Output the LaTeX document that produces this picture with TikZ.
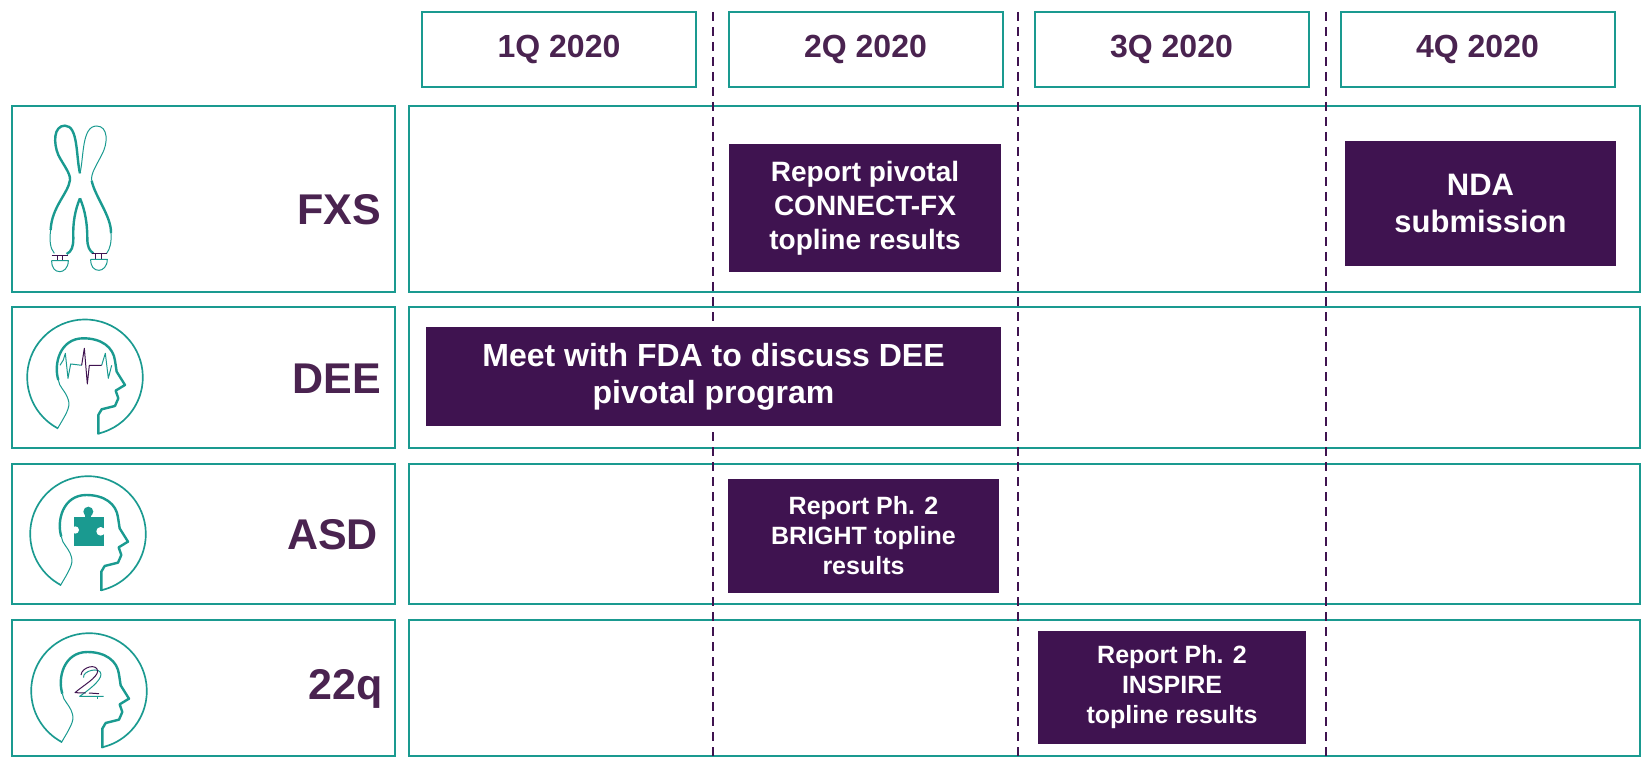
\documentclass[tikz,border=0pt]{standalone}
\usepackage{fontspec}
\setmainfont{Liberation Sans}
\definecolor{tealc}{HTML}{1A9A90}
\definecolor{plum}{HTML}{3F1350}
\definecolor{plumtxt}{HTML}{4A2350}
\tikzset{
	hdrbox/.style = {draw = tealc, line width = 2pt, minimum width = 274pt, minimum height = 75pt, inner sep = 0pt, text = plumtxt, font = \fontsize{32}{36}\selectfont\bfseries},
	rowbox/.style = {draw = tealc, line width = 2.6pt, inner sep = 0pt},
	rowname/.style = {anchor = east, inner sep = 0pt, text = plumtxt, font = \fontsize{43}{48}\selectfont\bfseries},
	evbox/.style = {fill = plum, inner sep = 0pt, text = white, align = center},
	quarter/.style = {draw = plum, line width = 2pt, dash pattern = on 9pt off 6pt},
	thick line/.style = {draw = tealc, line width = 2.4pt, line join = round},
	thin line/.style = {draw = tealc, line width = 1pt, line join = round},
	fine line/.style = {draw = plum, line width = 1pt, line join = round}
}
% ring and profile of a head, centred on the ring
\newcommand{\headoutline}{
	\fill[tealc] (118:176) arc[start angle = 118, end angle = 437, radius = 176] -- (77:171) arc[start angle = 437, end angle = 118, radius = 171] -- cycle;
	\draw[thin line] (-83,155) .. controls (-60,115) and (-42,90) .. (-50,68) .. controls (-58,40) and (-78,30) .. (-80,8);
	\draw[thick line] (-80,8) .. controls (-95,-40) and (-75,-117) .. (-5,-117) .. controls (50,-117) and (85,-90) .. (90,-50) -- (95,-17) -- (120,23) -- (92,40) -- (100,63) -- (90,86) -- (50,96) -- (40,113) -- (40,171);
}
\begin{document}
\begin{tikzpicture}[x = 1pt, y = -1pt]
	\useasboundingbox (0,0) rectangle (1651,767);
	
	\node[hdrbox] (Q1) at (559,49.5) {1Q 2020};
	\node[hdrbox] (Q2) at (865.5,49.5) {2Q 2020};
	\node[hdrbox] (Q3) at (1171.5,49.5) {3Q 2020};
	\node[hdrbox] (Q4) at (1477.5,49.5) {4Q 2020};
	
	\node[rowbox, minimum width = 383pt, minimum height = 186pt] (LFXS) at (203.5,199) {};
	\node[rowbox, minimum width = 383pt, minimum height = 141pt] (LDEE) at (203.5,377.5) {};
	\node[rowbox, minimum width = 383pt, minimum height = 140pt] (LASD) at (203.5,534) {};
	\node[rowbox, minimum width = 383pt, minimum height = 136pt] (LQ) at (203.5,688) {};
	\node[rowbox, minimum width = 1231pt, minimum height = 186pt] (RFXS) at (1024.5,199) {};
	\node[rowbox, minimum width = 1231pt, minimum height = 141pt] (RDEE) at (1024.5,377.5) {};
	\node[rowbox, minimum width = 1231pt, minimum height = 140pt] (RASD) at (1024.5,534) {};
	\node[rowbox, minimum width = 1231pt, minimum height = 136pt] (RQ) at (1024.5,688) {};
	
	\node[rowname] (NFXS) at (381,210) {FXS};
	\node[rowname] (NDEE) at (381,379) {DEE};
	\node[rowname] (NASD) at (378,535) {ASD};
	\node[rowname] (NQ) at (383,689) {22q};
	
	\coordinate (T1) at (713,12);
	\coordinate (T2) at (1018,12);
	\coordinate (T3) at (1326,12);
	\coordinate (B1) at (713,760);
	\coordinate (B2) at (1018,760);
	\coordinate (B3) at (1326,760);
	\draw[quarter] (T1) -- (B1) (T2) -- (B2) (T3) -- (B3);
	
	\node[evbox, minimum width = 272pt, minimum height = 128pt, font = \fontsize{28}{34}\selectfont\bfseries] (EFXS) at (865,208) {Report pivotal\\CONNECT-FX\\topline results};
	\node[evbox, minimum width = 271pt, minimum height = 125pt, font = \fontsize{31}{37}\selectfont\bfseries] (ENDA) at (1480.5,203.5) {NDA\\submission};
	\node[evbox, minimum width = 575pt, minimum height = 99pt, font = \fontsize{32}{37}\selectfont\bfseries] (EDEE) at (713.5,376.5) {Meet with FDA to discuss DEE\\pivotal program};
	\node[evbox, minimum width = 271pt, minimum height = 114pt, font = \fontsize{25}{30}\selectfont\bfseries] (EASD) at (863.5,536) {Report Ph. 2\\BRIGHT topline\\results};
	\node[evbox, minimum width = 268pt, minimum height = 113pt, font = \fontsize{25}{30}\selectfont\bfseries] (EQ) at (1172,687.5) {Report Ph. 2\\INSPIRE\\topline results};
	
	% chromosome
	\begin{scope}[shift = {(0,90)}, scale = 0.3333]
		\draw[thick line] (240,250) .. controls (228,200) and (235,107) .. (195,107) .. controls (160,107) and (160,160) .. (175,195) .. controls (190,225) and (212,250) .. (210,270) .. controls (205,310) and (155,350) .. (152,420);
		\draw[thin line] (152,420) .. controls (148,450) and (150,475) .. (163,490);
		\draw[thin line] (240,250) .. controls (252,200) and (245,108) .. (290,108) .. controls (325,108) and (325,160) .. (305,195) .. controls (290,225) and (272,250) .. (275,272);
		\draw[thick line] (275,272) .. controls (285,320) and (335,380) .. (333,430);
		\draw[thin line] (333,430) .. controls (335,455) and (330,478) .. (320,490);
		\draw[thick line] (240,325) .. controls (225,360) and (218,400) .. (220,445) .. controls (220,470) and (215,485) .. (200,492);
		\draw[thick line] (240,325) .. controls (255,360) and (262,400) .. (262,445) .. controls (262,470) and (268,482) .. (280,490);
		\draw[fine line] (155,496) -- (205,496) (172,496) -- (172,511) (188,496) -- (188,511);
		\draw[fine line] (275,492) -- (322,492) (288,492) -- (288,507) (304,492) -- (304,507);
		\draw[thin line] (155,512) -- (205,512) .. controls (205,535) and (190,545) .. (180,545) .. controls (165,545) and (155,535) .. (155,512);
		\draw[thin line] (272,508) -- (322,508) .. controls (322,530) and (308,541) .. (297,541) .. controls (282,541) and (272,530) .. (272,508);
	\end{scope}
	
	% head with trace
	\begin{scope}[shift = {(85,377.3)}, scale = 0.3333]
		\headoutline
		\draw[thin line] (-75,-36) -- (-65,-52) -- (-59,-72) -- (-51,3) -- (-43,-40) -- (-10,-36);
		\draw[thin line] (50,-36) -- (61,-72) -- (70,3) -- (80,-36);
		\draw[fine line] (-10,-36) -- (-2,-87) -- (7,20) -- (13,-36) -- (50,-36);
	\end{scope}
	
	% head with puzzle piece
	\begin{scope}[shift = {(88,534)}, scale = 0.3333]
		\headoutline
		\fill[tealc] (-41,-50) rectangle (49,36);
		\fill[tealc] (1,-67) circle (15);
		\fill[tealc] (-8,-60) rectangle (10,-45);
		\fill[white] (-38,-12) circle (11);
		\fill[white] (38,-8) circle (13);
	\end{scope}
	
	% head with double 2
	\begin{scope}[shift = {(89,691)}, scale = 0.3333]
		\headoutline
		\draw[thin line] (-16,-40) .. controls (-22,-60) and (35,-75) .. (36,-50) .. controls (36,-30) and (-5,0) .. (-28,16) -- (44,16);
		\draw[fine line] (-24,-48) .. controls (-22,-72) and (24,-84) .. (26,-60) .. controls (26,-40) and (-20,-15) .. (-42,5) -- (-10,6) (0,6) -- (30,8);
		\draw[thin line] (24,16) -- (24,24);
	\end{scope}
\end{tikzpicture}
\end{document}
